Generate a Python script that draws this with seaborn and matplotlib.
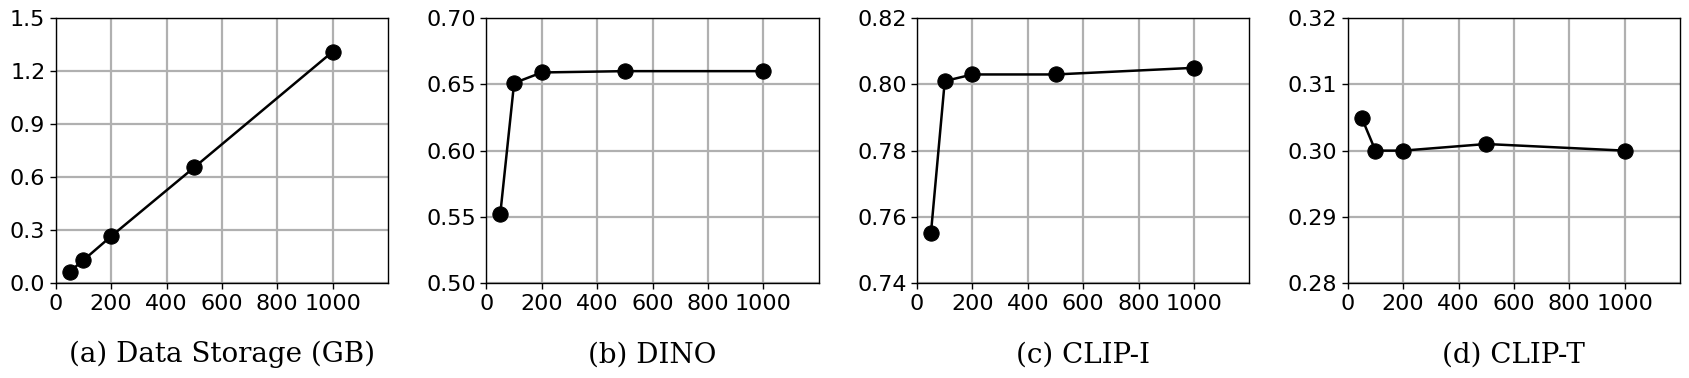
import matplotlib
matplotlib.use("Agg")
import matplotlib.pyplot as plt
import numpy as np
import pandas as pd
import seaborn as sns

# number of subjects / samples
steps = [50, 100, 200, 500, 1000]

storage = [0.065, 0.13, 0.265, 0.655, 1.31]
dino = [0.552, 0.651, 0.659, 0.660, 0.660]
clip_i = [0.755, 0.801, 0.803, 0.803, 0.805]
clip_t = [0.305, 0.300, 0.300, 0.301, 0.300]

titles = ["(a) Data Storage (GB)", "(b) DINO", "(c) CLIP-I", "(d) CLIP-T"]
ylims = [(0.0, 1.5), (0.50, 0.70), (0.74, 0.82), (0.28, 0.32)]
yticks = [
    [0.0, 0.3, 0.6, 0.9, 1.2, 1.5],
    [0.50, 0.55, 0.60, 0.65, 0.70],
    [0.74, 0.76, 0.78, 0.80, 0.82],
    [0.28, 0.29, 0.30, 0.31, 0.32],
]
yfmt = ["{:.1f}", "{:.2f}", "{:.2f}", "{:.2f}"]

sns.set_style("ticks")
plt.rcParams["font.family"] = ["DejaVu Sans"]
plt.rcParams["text.color"] = "black"
plt.rcParams["xtick.color"] = "black"
plt.rcParams["ytick.color"] = "black"
plt.rcParams["axes.edgecolor"] = "black"

fig, axes = plt.subplots(1, 4, figsize=(16.89, 3.78), dpi=100)
fig.subplots_adjust(left=0.033, right=0.9947, top=0.952, bottom=0.251, wspace=0.296)

for ax, vals, title, yl, yt, fmt in zip(axes, [storage, dino, clip_i, clip_t], titles, ylims, yticks, yfmt):
    df = pd.DataFrame({"x": steps, "y": vals})
    sns.lineplot(data=df, x="x", y="y", ax=ax, color="black", linewidth=1.8,
                 marker="o", markersize=11, markeredgecolor="black", zorder=3)
    ax.set_xlim(0, 1200)
    ax.set_xticks([0, 200, 400, 600, 800, 1000])
    ax.set_ylim(*yl)
    ax.set_yticks(yt)
    ax.set_yticklabels([fmt.format(v) for v in yt])
    ax.grid(True, color="#b0b0b0", linewidth=1.6)
    ax.set_axisbelow(True)
    ax.set_xlabel("")
    ax.set_ylabel("")
    ax.tick_params(labelsize=16, width=1, length=4, colors="black")
    for s in ax.spines.values():
        s.set_visible(True)
        s.set_linewidth(1.0)
        s.set_color("black")
    ax.text(0.5, -0.27, title, transform=ax.transAxes, ha="center", va="center",
            fontsize=20, family="DejaVu Serif", color="black")

fig.savefig("out.png", dpi=100)
